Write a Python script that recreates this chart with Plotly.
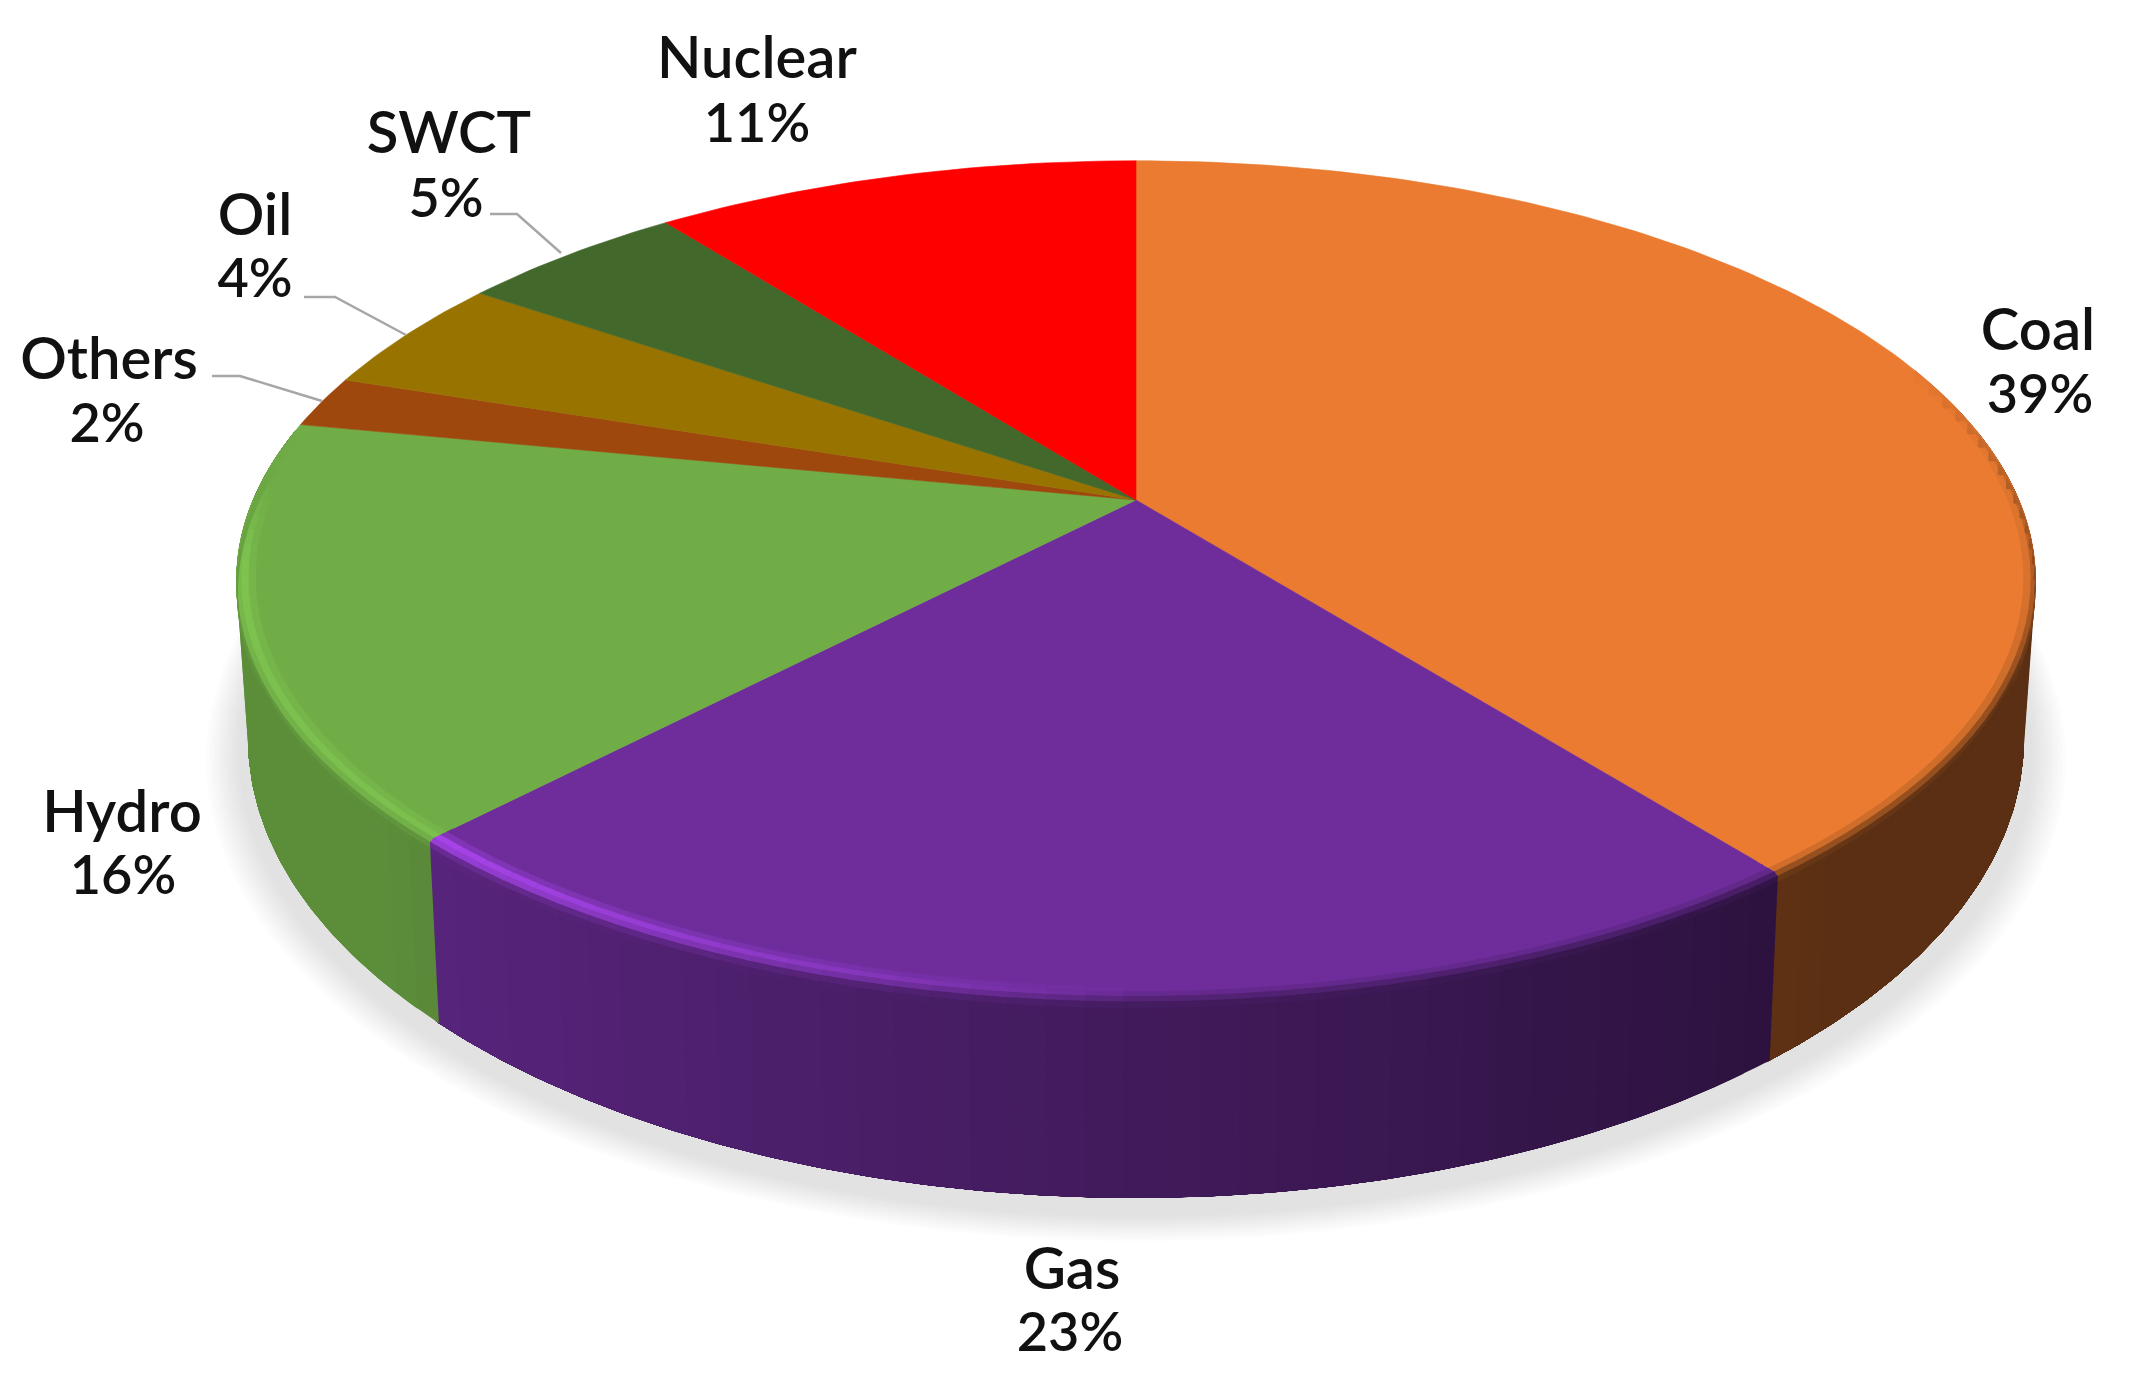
import numpy as np
import plotly.graph_objects as go

# -------------------------------
# data
# -------------------------------
categories = ["Coal", "Gas", "Hydro", "Others", "Oil", "SWCT", "Nuclear"]
shares = [39.4, 22.7, 16.0, 2.0, 4.5, 4.9, 10.5]
pct_labels = ["39%", "23%", "16%", "2%", "4%", "5%", "11%"]

top_colors = ["#EA7B31", "#6E2D9B", "#70AD47", "#9E480E", "#997300", "#43682B", "#FF0000"]
rim_glow = [0.0, 0.66, 0.17, 0.0, 0.0, 0.0, 0.0]

# label centres, pixels of the page: name line, then percent line
name_xy = [(2038, 330), (1072, 1269), (122, 812), (109, 359), (255, 215), (449, 133), (757, 58)]
pct_xy = [(2040, 394), (1070, 1332), (123, 875), (107, 423), (255, 278), (446, 198), (757, 123)]

leader_x = [[212, 240, 322], [304, 335, 406], [490, 517, 561]]
leader_y = [[376, 376, 401], [297, 297, 335], [214, 214, 253]]

# -------------------------------
# pie geometry (perspective disc)
# -------------------------------
CX, CY = 1136, 500
B, A, K = 883, 404, 0.191
BOT_Y, BOT_A, BOT_S = 651.5, 442, 0.987


def top_point(theta, r=1.0):
    u, v = r * np.sin(theta), r * np.cos(theta)
    den = 1 + K * v
    return CX + B * u / den, CY - A * v / den


def bottom_point(theta, r=1.0):
    u, v = r * np.sin(theta), r * np.cos(theta)
    den = 1 + K * v
    return CX + BOT_S * B * u / den, BOT_Y - BOT_A * v / den


def rgb(hex_color):
    return np.array([int(hex_color[i:i + 2], 16) for i in (1, 3, 5)], dtype=float)


def css(c):
    c = np.clip(np.round(c), 0, 255).astype(int)
    return f"rgb({c[0]},{c[1]},{c[2]})"


def wall_shade(u):
    return float(np.clip(0.59 - 0.30 * u, 0.385, 0.82))


def poly(fig, xs, ys, color, edge=0.6):
    fig.add_trace(go.Scatter(x=xs, y=ys, mode="lines", fill="toself", fillcolor=color,
                             line=dict(color=color, width=edge), hoverinfo="skip"))


fig = go.Figure()

# soft shadow on the floor, lightest ring first
for e, grey in zip(np.linspace(1.045, 1.01, 10), np.linspace(252, 226, 10)):
    t = np.radians(np.linspace(0, 360, 181))
    x, y = bottom_point(t, e)
    g = int(grey)
    poly(fig, x, y + 12, f"rgb({g},{g},{g})")

fractions = np.cumsum([0] + shares) / sum(shares)
starts = np.degrees(fractions[:-1] * 2 * np.pi)
ends = np.degrees(fractions[1:] * 2 * np.pi)
WALL_FROM, WALL_TO = 70, 280

# side wall: each strip runs on to the end of the slice and the next one paints over it,
# that way no seams show in the gradient
for s, e, col in zip(starts, ends, top_colors):
    a, b = max(s, WALL_FROM), min(e, WALL_TO)
    if b <= a:
        continue
    n = max(1, int((b - a) / 2))
    grid = np.linspace(a, b, n + 1)
    for d0, d1 in zip(grid[:-1], grid[1:]):
        seg = np.radians(np.arange(d0, b + 0.5, 0.5))
        seg = np.r_[seg, np.radians(b)]
        xt, yt = top_point(seg)
        xb, yb = bottom_point(seg)
        shade = wall_shade(np.sin(np.radians((d0 + d1) / 2)))
        poly(fig, np.r_[xt, xb[::-1]], np.r_[yt, yb[::-1]], css(rgb(col) * shade), edge=0)

# top face
for s, e, col in zip(starts, ends, top_colors):
    t = np.radians(np.linspace(s, e, max(3, int(e - s) + 2)))
    x, y = top_point(t)
    poly(fig, np.r_[CX, x, CX], np.r_[CY, y, CY], col)

# bevel along the visible rim
BANDS = np.linspace(0, 1, 7)
R0, DROP = 0.972, 0.08


def rim_point(t, w):
    r = R0 + (1 - R0) * min(w / 0.6, 1)
    f = max(0.0, (w - 0.6) / 0.4) * DROP
    xt, yt = top_point(t, r)
    xb, yb = bottom_point(t, 1.0)
    return xt + (xb - xt) * f, yt + (yb - yt) * f


for s, e, col, glow in zip(starts, ends, top_colors, rim_glow):
    a, b = max(s, WALL_FROM), min(e, WALL_TO)
    if b <= a:
        continue
    n = max(1, int((b - a) / 2))
    grid = np.radians(np.linspace(a, b, n + 1))
    for t0, t1 in zip(grid[:-1], grid[1:]):
        mid = (t0 + t1) / 2
        deg = np.degrees(mid)
        u, v = np.sin(mid), np.cos(mid)
        fade = min(np.clip((deg - WALL_FROM) / 45, 0, 1), np.clip((WALL_TO - deg) / 35, 0, 1))
        light = glow * np.clip(-u / 0.7, 0, 1) ** 0.7 * np.clip((0.05 - v) / 0.2, 0, 1)
        base, wall = rgb(col), rgb(col) * wall_shade(u)
        for w0, w1 in zip(BANDS[:-1], BANDS[1:]):
            wm = (w0 + w1) / 2
            k = np.clip((wm - 0.25) / 0.6, 0, 1)
            k = k * k * (3 - 2 * k) * fade
            bump = np.exp(-((wm - 0.5) / 0.22) ** 2) * min(wm / 0.25, 1)
            c = (base + (wall - base) * k) * (1 + light * bump)
            seg = [t0, (t0 + t1) / 2, t1]
            p0 = [rim_point(q, w0) for q in seg]
            p1 = [rim_point(q, w1) for q in seg[::-1]]
            pts = p0 + p1
            poly(fig, [p[0] for p in pts], [p[1] for p in pts], css(c), edge=1)

# leader lines
for lx, ly in zip(leader_x, leader_y):
    fig.add_trace(go.Scatter(x=lx, y=ly, mode="lines", line=dict(color="#A6A6A6", width=2.5),
                             hoverinfo="skip"))

# labels
name_font = dict(family="Lato", size=58, color="#111111", weight=600)
pct_font = dict(family="Lato", size=54, color="#111111", weight=600)
fig.add_trace(go.Scatter(x=[p[0] for p in name_xy], y=[p[1] + 5 for p in name_xy], mode="text",
                         text=categories, textposition="middle center", textfont=name_font,
                         hoverinfo="skip"))
fig.add_trace(go.Scatter(x=[p[0] for p in pct_xy], y=[p[1] + 5 for p in pct_xy], mode="text",
                         text=pct_labels, textposition="middle center", textfont=pct_font,
                         hoverinfo="skip"))

fig.update_layout(width=2146, height=1393, margin=dict(l=0, r=0, t=0, b=0),
                  paper_bgcolor="white", plot_bgcolor="white", showlegend=False,
                  xaxis=dict(range=[0, 2146], visible=False, fixedrange=True),
                  yaxis=dict(range=[1393, 0], visible=False, fixedrange=True))
fig.write_html("out.html", config={"displayModeBar": False},
               post_script="document.body.style.margin='0';")
